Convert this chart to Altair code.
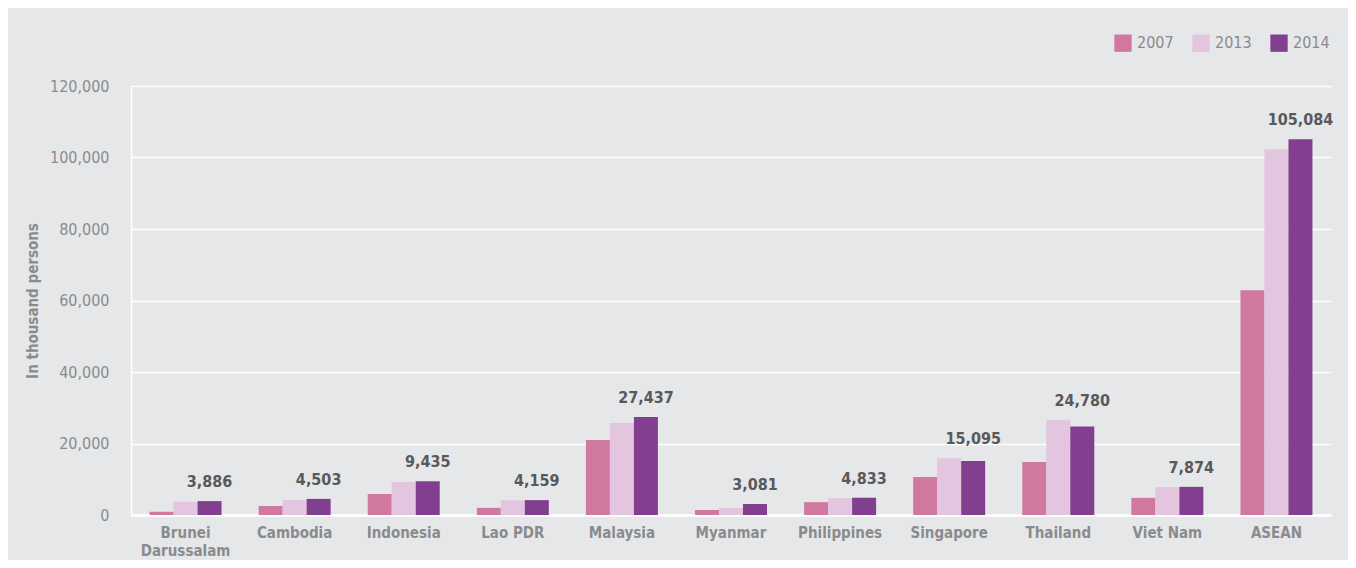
import altair as alt
import pandas as pd

countries = ["Brunei Darussalam", "Cambodia", "Indonesia", "Lao PDR", "Malaysia",
             "Myanmar", "Philippines", "Singapore", "Thailand", "Viet Nam", "ASEAN"]
years = ["2007", "2013", "2014"]
v2007 = [900, 2500, 5900, 2000, 21000, 1400, 3600, 10600, 14800, 4800, 62900]
v2013 = [3700, 4200, 9200, 4100, 25700, 2000, 4700, 15900, 26500, 7800, 102300]
v2014 = [3886, 4503, 9435, 4159, 27437, 3081, 4833, 15095, 24780, 7874, 105084]
y_ticks = [0, 20000, 40000, 60000, 80000, 100000, 120000]
colors = ["#d0789f", "#e3c5df", "#823f8f"]

rows = []
for yr, vals in zip(years, [v2007, v2013, v2014]):
    for c, v in zip(countries, vals):
        rows.append({"country": c, "year": yr, "value": v})
df = pd.DataFrame(rows)

lab = pd.DataFrame({
    "country": countries,
    "year": ["2014"] * len(countries),
    "value": v2014,
    "top": [max(a, b, c) for a, b, c in zip(v2007, v2013, v2014)],
})

FONT = "Liberation Sans Narrow, Arial Narrow, DejaVu Sans Condensed, sans-serif"
GRAY = "#8a8b8d"

x = alt.X("country:N", sort=countries, title=None,
          scale=alt.Scale(paddingInner=0.34, paddingOuter=0.17),
          axis=alt.Axis(labelAngle=0, labelFont=FONT, labelFontSize=15, labelFontWeight="bold",
                        labelColor=GRAY, ticks=False, labelPadding=10, domainColor="white",
                        domainWidth=2.5, labelLineHeight=18,
                        labelExpr="datum.label == 'Brunei Darussalam' ? ['Brunei', 'Darussalam'] : datum.label"))

bars = alt.Chart(df).mark_bar().encode(
    x=x,
    xOffset=alt.XOffset("year:N", sort=years),
    y=alt.Y("value:Q", title="In thousand persons",
            scale=alt.Scale(domain=[0, 120000], nice=False),
            axis=alt.Axis(values=y_ticks, labelExpr="format(datum.value, ',')",
                          labelFont=FONT, labelFontSize=16,
                          labelColor=GRAY, ticks=False, labelPadding=22, domainColor="white",
                          domainWidth=1.5, gridColor="white", gridWidth=1.5,
                          titleFont=FONT, titleFontSize=15, titleColor=GRAY,
                          titleFontWeight="bold", titlePadding=9)),
    color=alt.Color("year:N", sort=years,
                    scale=alt.Scale(domain=years, range=colors),
                    legend=alt.Legend(title=None, orient="none", direction="horizontal",
                                      legendX=983, legendY=-52, symbolType="square",
                                      symbolSize=300, symbolStrokeWidth=0, symbolOpacity=1,
                                      labelFont=FONT, labelFontSize=16, labelColor=GRAY,
                                      labelOffset=5, columnPadding=18, padding=0)),
)

texts = alt.Chart(lab).mark_text(font=FONT, fontSize=16, fontWeight="bold", color="#58595b",
                                 baseline="alphabetic", dy=-14).encode(
    x=alt.X("country:N", sort=countries),
    xOffset=alt.XOffset("year:N", sort=years),
    y=alt.Y("top:Q"),
    text=alt.Text("value:Q", format=","),
)

chart = alt.layer(bars, texts).properties(
    width=1200, height=429,
    background="#e6e7e9",
    padding={"left": 123, "top": 78, "right": 17, "bottom": 45},
    autosize=alt.AutoSizeParams(type="none"),
).configure_view(stroke=None).configure_axis(grid=True).configure_axisX(grid=False)

chart.save("out.html", embed_options={"renderer": "svg", "actions": False})
